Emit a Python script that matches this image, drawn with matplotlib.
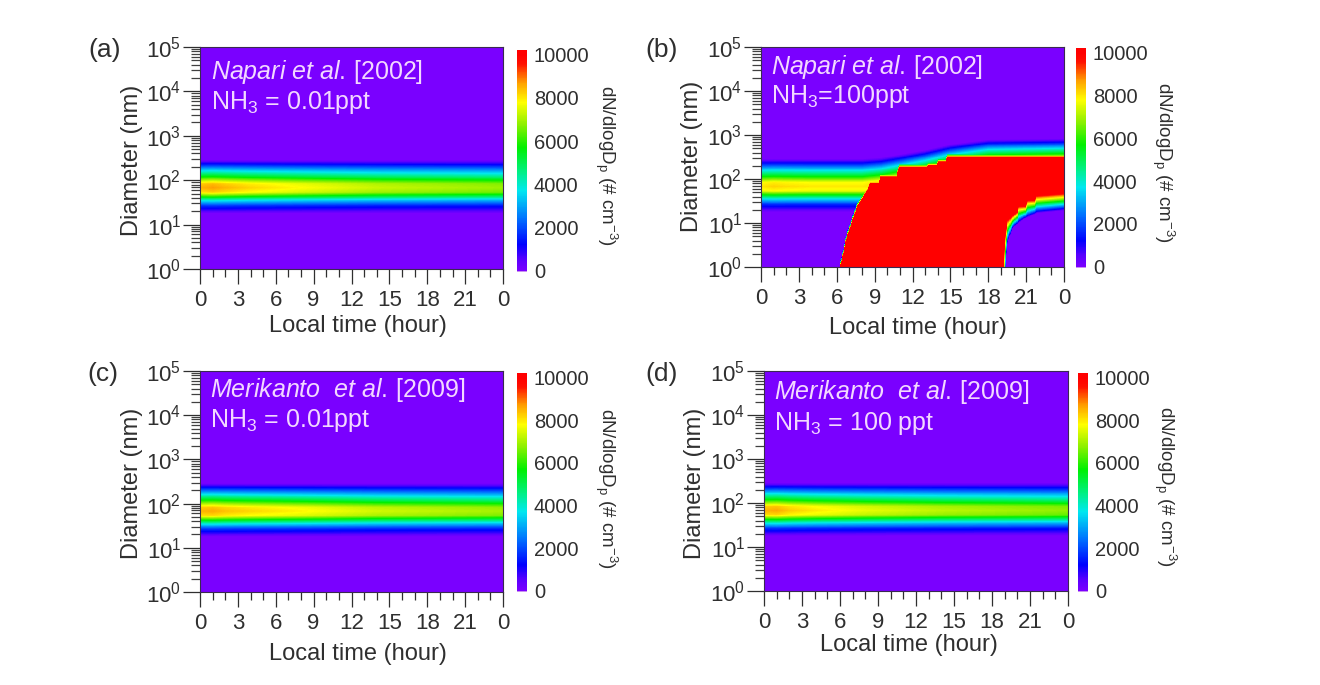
import matplotlib
matplotlib.use("Agg")
import matplotlib.pyplot as plt
import numpy as np
from matplotlib.colors import LinearSegmentedColormap
from matplotlib.ticker import FixedLocator, LogLocator, NullFormatter, LogFormatterMathtext

plt.rcParams['font.family'] = ['Liberation Sans', 'DejaVu Sans']
plt.rcParams['mathtext.fontset'] = 'custom'
plt.rcParams['mathtext.rm'] = 'Liberation Sans'
plt.rcParams['mathtext.it'] = 'Liberation Sans:italic'
plt.rcParams['mathtext.bf'] = 'Liberation Sans:bold'

# data
hour_ticks = [0, 3, 6, 9, 12, 15, 18, 21, 24]
hour_labels = ['0', '3', '6', '9', '12', '15', '18', '21', '0']
cbar_ticks = [0, 2000, 4000, 6000, 8000, 10000]

# vertical shape of the accumulation band (log10 D, share of the peak)
band_logd = [0, 1.25, 1.33, 1.42, 1.54, 1.63, 1.73, 1.83, 1.92, 2.00, 2.07, 2.22, 2.37, 2.46, 5]
band_share = [0, 0, 0.10, 0.20, 0.44, 0.68, 0.95, 1.0, 0.97, 0.82, 0.68, 0.42, 0.14, 0, 0]

# peak of the band through the day
peak_hours = [0, 1, 2, 4, 8, 14, 24]
peak_a = [8500, 8700, 8500, 8200, 7800, 7300, 6900]
peak_b = [8000, 8200, 8100, 8000, 8000, 9000, 9600]
peak_c = [8500, 8600, 8400, 8200, 7900, 7400, 7000]
peak_d = [8500, 8600, 8300, 8000, 7600, 7200, 6800]

# panel b: upward growth of the band top
shift_hours = [0, 8, 9.5, 11, 13, 15, 18, 24]
shift_logd = [0, 0, 0.03, 0.10, 0.20, 0.33, 0.44, 0.46]
# panel b: top edge of the red area
red_top_hours = [6.2, 6.27, 6.8, 7.6, 8.4, 8.65, 9.35, 9.4, 10.75, 10.9, 13.15, 13.2, 13.95, 14.0, 14.65, 14.7, 24]
red_top_logd = [-1, 0, 0.68, 1.36, 1.74, 1.9, 1.9, 2.05, 2.05, 2.27, 2.27, 2.31, 2.31, 2.39, 2.39, 2.5, 2.5]
# panel b: bottom edge of the red area, and where the colour fades out below it
red_bot_hours = [19.15, 19.2, 19.3, 19.5, 20.3, 20.4, 21.0, 21.1, 21.7, 21.8, 24]
red_bot_logd = [-1, 0, 0.5, 1.06, 1.25, 1.38, 1.38, 1.52, 1.52, 1.62, 1.67]
fade_hours = [19.3, 19.45, 19.6, 20.0, 20.8, 21.9, 24]
fade_logd = [-1, 0.35, 0.62, 0.9, 1.08, 1.22, 1.28]

panel_names = ['(a)', '(b)', '(c)', '(d)']
panel_refs = [r'$\mathit{Napari\ et\ al.}\,$[2002]', r'$\mathit{Napari\ et\ al.}\,$[2002]',
              r'$\mathit{Merikanto\ \ et\ al.}\,$[2009]', r'$\mathit{Merikanto\ \ et\ al.}\,$[2009]']
panel_nh3 = ['NH$_3$ = 0.01ppt', 'NH$_3$=100ppt', 'NH$_3$ = 0.01ppt', 'NH$_3$ = 100 ppt']

# pixel layout: left, top, right, bottom
ax_boxes = [(200, 47, 503, 269), (761, 47, 1064, 267), (200, 371, 503, 592), (764, 371, 1068, 591)]
cb_boxes = [(517, 50, 527, 272), (1076, 48, 1086, 268), (517, 373, 527, 592), (1078, 373, 1088, 592)]
name_pos = [(88, 50), (645, 50), (87, 374), (645, 374)]
ref_pos = [(211, 72), (771, 67), (210, 390), (774, 392)]
nh3_pos = [(211, 103), (771, 97), (210, 421), (774, 423)]
xlab_pos = [(358, 326), (918, 328), (358, 654), (909, 645)]
ylab_pos = [(132, 160), (692, 156), (132, 483), (695, 483)]
cblab_pos = [(606, 165), (1163, 162), (606, 488), (1165, 486)]

W, H = 1320, 685
TXT = '#2f2f2f'

rainbow = LinearSegmentedColormap.from_list('rb', [
    (0.0, '#7a00ff'), (0.05, '#5a00ff'), (0.12, '#0000ff'), (0.24, '#0070ff'),
    (0.37, '#00e8f0'), (0.46, '#00f080'), (0.57, '#00f000'), (0.68, '#90f000'),
    (0.78, '#ffff00'), (0.87, '#ffa000'), (0.96, '#ff1000'), (1.0, '#ff0000')])
rainbow.set_under('#c890f0')
rainbow.set_over('#ff0000')

hours = np.linspace(0, 24, 480)
logd = np.linspace(0, 5, 900)


def band_field(peak):
    field = np.zeros((len(logd), len(hours)))
    for j, h in enumerate(hours):
        field[:, j] = np.interp(h, peak_hours, peak) * np.interp(logd, band_logd, band_share)
    return field


def growth_field(peak):
    field = np.zeros((len(logd), len(hours)))
    for j, h in enumerate(hours):
        top = np.interp(h, red_top_hours, red_top_logd, left=-1)
        bot = np.interp(h, red_bot_hours, red_bot_logd, left=-1)
        fade = np.interp(h, fade_hours, fade_logd, left=-1)
        shift = np.interp(h, shift_hours, shift_logd)
        pk = np.interp(h, peak_hours, peak)
        # the band rides up with the top of the mode
        col = pk * np.interp(logd - shift, band_logd, band_share)
        col[logd < shift + 1.2] = 0
        # red area with a narrow edge on top
        if top >= 0:
            edge = np.clip(1 - (logd - top) / 0.11, 0, 1) * 10000
            col = np.maximum(col, edge)
        # fresh particles below the red area late in the day
        if bot >= -0.5 and h >= 19.2:
            low = np.clip((logd - fade) / max(bot - fade, 0.05), 0, 1) * 10000
            mask = logd < bot
            col[mask] = low[mask]
        field[:, j] = col
    return field


fig = plt.figure(figsize=(W / 100, H / 100), dpi=100, facecolor='white')


def to_fig(x, y):
    return x / W, 1 - y / H


fields = [band_field(peak_a), growth_field(peak_b), band_field(peak_c), band_field(peak_d)]
for i in range(4):
    l, t, r, b = ax_boxes[i]
    ax = fig.add_axes([l / W, 1 - b / H, (r - l) / W, (b - t) / H])
    mesh = ax.pcolormesh(hours, 10 ** logd, fields[i], cmap=rainbow, vmin=0, vmax=10000,
                         shading='auto', rasterized=True)
    ax.set_yscale('log')
    ax.set_xlim(0, 24)
    ax.set_ylim(1, 1e5)
    ax.xaxis.set_major_locator(FixedLocator(hour_ticks))
    ax.set_xticklabels(hour_labels)
    ax.xaxis.set_minor_locator(FixedLocator(range(25)))
    ax.yaxis.set_major_locator(LogLocator(base=10, numticks=7))
    ax.yaxis.set_major_formatter(LogFormatterMathtext())
    ax.yaxis.set_minor_locator(LogLocator(base=10, subs=range(2, 10), numticks=7))
    ax.yaxis.set_minor_formatter(NullFormatter())
    ax.tick_params(axis='x', which='major', length=11, width=0.9, color=TXT, labelcolor=TXT,
                   labelsize=16, pad=4)
    ax.tick_params(axis='x', which='minor', length=6, width=0.9, color=TXT)
    ax.tick_params(axis='y', which='major', length=12.5, width=0.9, color=TXT, labelcolor=TXT,
                   labelsize=16, pad=1)
    ax.tick_params(axis='y', which='minor', length=6.5, width=0.9, color='#404040')
    for s in ax.spines.values():
        s.set_linewidth(0.8)
        s.set_color('#3a2a50')

    fx, fy = to_fig(*ref_pos[i])
    fig.text(fx, fy, panel_refs[i], color='#f3d8ff', fontsize=18, va='center', ha='left')
    fx, fy = to_fig(*nh3_pos[i])
    fig.text(fx, fy, panel_nh3[i], color='#f3d8ff', fontsize=18, va='center', ha='left')
    fx, fy = to_fig(*name_pos[i])
    fig.text(fx, fy, panel_names[i], color=TXT, fontsize=19, va='center', ha='left')
    fx, fy = to_fig(*xlab_pos[i])
    fig.text(fx, fy, 'Local time (hour)', color=TXT, fontsize=17, va='center', ha='center')
    fx, fy = to_fig(*ylab_pos[i])
    fig.text(fx, fy, 'Diameter (nm)', color=TXT, fontsize=17, va='center', ha='center', rotation=90)
    fx, fy = to_fig(*cblab_pos[i])
    fig.text(fx, fy, r'dN/dlogD$_\mathrm{p}$ (# cm$^{-3}$)', color=TXT, fontsize=13.5,
             va='center', ha='center', rotation=270)

    cl, ct, cr, cb = cb_boxes[i]
    cax = fig.add_axes([cl / W, 1 - cb / H, (cr - cl) / W, (cb - ct) / H])
    bar = fig.colorbar(mesh, cax=cax, extend='both', extendrect=True, extendfrac=(0.006, 0.022))
    bar.set_ticks(cbar_ticks)
    bar.outline.set_visible(False)
    bar.ax.tick_params(length=0, labelsize=14.5, labelcolor=TXT, pad=5)

fig.savefig('out.png', dpi=100)
